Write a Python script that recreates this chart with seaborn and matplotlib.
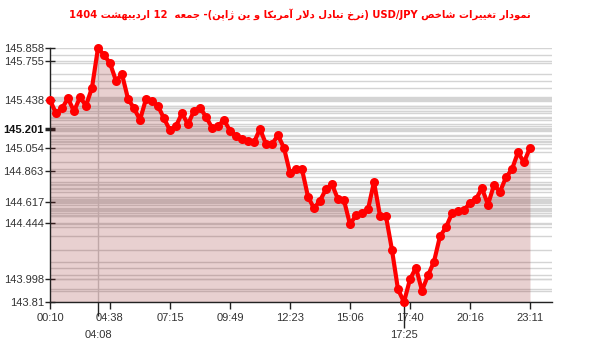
import re
import matplotlib
matplotlib.use("Agg")
import matplotlib.pyplot as plt
import seaborn as sns
import numpy as np
import pandas as pd

# ---------------- data ----------------
title_text = "نمودار تغییرات شاخص USD/JPY (نرخ تبادل دلار آمریکا و ین ژاپن)- جمعه  12 اردیبهشت 1404"

prices = [
    145.438, 145.332, 145.372, 145.452, 145.348, 145.461, 145.393, 145.538, 145.858, 145.802,
    145.735, 145.594, 145.646, 145.449, 145.372, 145.278, 145.447, 145.431, 145.390, 145.290,
    145.194, 145.229, 145.332, 145.243, 145.352, 145.377, 145.304, 145.215, 145.229, 145.278,
    145.191, 145.148, 145.122, 145.108, 145.098, 145.205, 145.084, 145.084, 145.154, 145.052,
    144.850, 144.880, 144.880, 144.659, 144.566, 144.627, 144.719, 144.759, 144.638, 144.630,
    144.437, 144.509, 144.525, 144.557, 144.778, 144.506, 144.501, 144.229, 143.912, 143.810,
    143.993, 144.087, 143.901, 144.025, 144.135, 144.340, 144.412, 144.525, 144.541, 144.549,
    144.611, 144.641, 144.727, 144.595, 144.753, 144.699, 144.815, 144.880, 145.017, 144.936,
    145.054,
]

x_tick_pos = [0, 10, 20, 30, 40, 50, 60, 70, 80]
x_tick_labels = ["00:10", "04:38", "07:15", "09:49", "12:23", "15:06", "17:40", "20:16", "23:11"]
x_extra_pos = [8, 59]
x_extra_labels = ["04:08", "17:25"]

y_ticks = [143.81, 143.998, 144.444, 144.617, 144.863, 145.054, 145.201, 145.438, 145.755, 145.858]
y_tick_labels = ["143.81", "143.998", "144.444", "144.617", "144.863", "145.054", "145.201",
                 "145.438", "145.755", "145.858"]
y_bold_label = "145.201"

# ------------- Arabic/Persian shaping (presentation forms) -------------
FORMS = {
    'ا': (0xFE8D, 0xFE8E, None, None), 'آ': (0xFE81, 0xFE82, None, None),
    'د': (0xFEA9, 0xFEAA, None, None), 'ر': (0xFEAD, 0xFEAE, None, None),
    'ز': (0xFEAF, 0xFEB0, None, None), 'ژ': (0xFB8A, 0xFB8B, None, None),
    'و': (0xFEED, 0xFEEE, None, None),
    'ب': (0xFE8F, 0xFE90, 0xFE91, 0xFE92), 'ت': (0xFE95, 0xFE96, 0xFE97, 0xFE98),
    'ج': (0xFE9D, 0xFE9E, 0xFE9F, 0xFEA0), 'خ': (0xFEA5, 0xFEA6, 0xFEA7, 0xFEA8),
    'ش': (0xFEB5, 0xFEB6, 0xFEB7, 0xFEB8), 'ص': (0xFEB9, 0xFEBA, 0xFEBB, 0xFEBC),
    'ع': (0xFEC9, 0xFECA, 0xFECB, 0xFECC), 'غ': (0xFECD, 0xFECE, 0xFECF, 0xFED0),
    'ل': (0xFEDD, 0xFEDE, 0xFEDF, 0xFEE0), 'م': (0xFEE1, 0xFEE2, 0xFEE3, 0xFEE4),
    'ن': (0xFEE5, 0xFEE6, 0xFEE7, 0xFEE8), 'ه': (0xFEE9, 0xFEEA, 0xFEEB, 0xFEEC),
    'ی': (0xFBFC, 0xFBFD, 0xFBFE, 0xFBFF), 'ک': (0xFB8E, 0xFB8F, 0xFB90, 0xFB91),
    'پ': (0xFB56, 0xFB57, 0xFB58, 0xFB59),
}
LAM_ALEF = {'ا': (0xFEFB, 0xFEFC), 'آ': (0xFEF5, 0xFEF6)}


def dual(c):
    return c in FORMS and FORMS[c][2] is not None


def shape(text):
    out = []
    chars = list(text)
    n = len(chars)
    i = 0
    while i < n:
        c = chars[i]
        if c not in FORMS:
            out.append(c)
            i += 1
            continue
        prev = chars[i - 1] if i > 0 else None
        nxt = chars[i + 1] if i + 1 < n else None
        pj = prev is not None and dual(prev)
        if c == 'ل' and nxt in LAM_ALEF:
            iso, fin = LAM_ALEF[nxt]
            out.append(chr(fin if pj else iso))
            i += 2
            continue
        nj = dual(c) and nxt is not None and nxt in FORMS
        iso, fin, ini, med = FORMS[c]
        if pj and nj:
            out.append(chr(med))
        elif pj:
            out.append(chr(fin))
        elif nj:
            out.append(chr(ini))
        else:
            out.append(chr(iso))
        i += 1
    return "".join(out)


def visual_rtl(text):
    s = shape(text)
    toks = re.findall(r'[A-Za-z0-9][A-Za-z0-9/.]*|.', s)
    toks = toks[::-1]
    mirror = {'(': ')', ')': '('}
    return "".join(mirror.get(t, t) for t in toks)


# ---------------- plot ----------------
df = pd.DataFrame({"idx": np.arange(len(prices)), "price": prices})

sns.set_theme(style="white")
plt.rcParams['font.family'] = ['Liberation Sans', 'DejaVu Sans']

W, H = 600, 352
fig = plt.figure(figsize=(W / 100, H / 100), dpi=100)
ax = fig.add_axes([50 / W, 50 / H, 502 / W, 254 / H])

ymin, ymax = 143.81, 145.858
ax.set_ylim(ymin, ymax)
ax.set_xlim(0, 83.67)

# horizontal gridlines at every data value / tick
for v in sorted(set(prices) | set(y_ticks)):
    ax.axhline(v, color='#d4d4d4', lw=1, zorder=0)
ax.axvline(x_extra_pos[0], color='#cccccc', lw=1, zorder=0)

ax.fill_between(df["idx"], df["price"], ymin, color=(0.55, 0.08, 0.08), alpha=0.2,
                lw=0, zorder=1)
sns.lineplot(data=df, x="idx", y="price", ax=ax, color='#ff0000', linewidth=3,
             marker='o', markersize=6.5, markeredgewidth=0, zorder=3, clip_on=False)
ax.set_xlabel("")
ax.set_ylabel("")

for side in ['top', 'right']:
    ax.spines[side].set_visible(False)
for side in ['left', 'bottom']:
    ax.spines[side].set_color('#222222')
    ax.spines[side].set_linewidth(1)

ax.set_yticks(y_ticks)
ax.set_yticklabels(y_tick_labels)
ax.tick_params(axis='y', which='major', direction='inout', length=7, width=1,
               color='#222222', labelsize=8, labelcolor='#333333', pad=1, left=True)
for t, lab in zip(ax.yaxis.get_major_ticks(), y_tick_labels):
    if lab == y_bold_label:
        t.label1.set_fontweight('bold')
        t.label1.set_color('#111111')
        t.tick1line.set_markeredgewidth(2.5)

ax.set_xticks(x_tick_pos)
ax.set_xticklabels(x_tick_labels)
ax.tick_params(axis='x', which='major', direction='out', length=5, width=1,
               color='#222222', labelsize=8, labelcolor='#333333', pad=3, bottom=True)
ax.set_xticks(x_extra_pos, minor=True)
ax.set_xticklabels(x_extra_labels, minor=True)
ax.tick_params(axis='x', which='minor', direction='out', length=19, width=1,
               color='#222222', labelsize=8, labelcolor='#333333', pad=1, bottom=True)
mt = ax.xaxis.get_minor_ticks()
mt[0].tick1line.set_color('#cccccc')
mt[0].tick1line.set_markersize(10)

fig.text(0.5, 1 - 15 / H, visual_rtl(title_text), ha='center', va='center',
         color='#ff0000', fontsize=7.2, fontweight='bold', family=['DejaVu Sans'])

fig.savefig("out.png", dpi=100)
